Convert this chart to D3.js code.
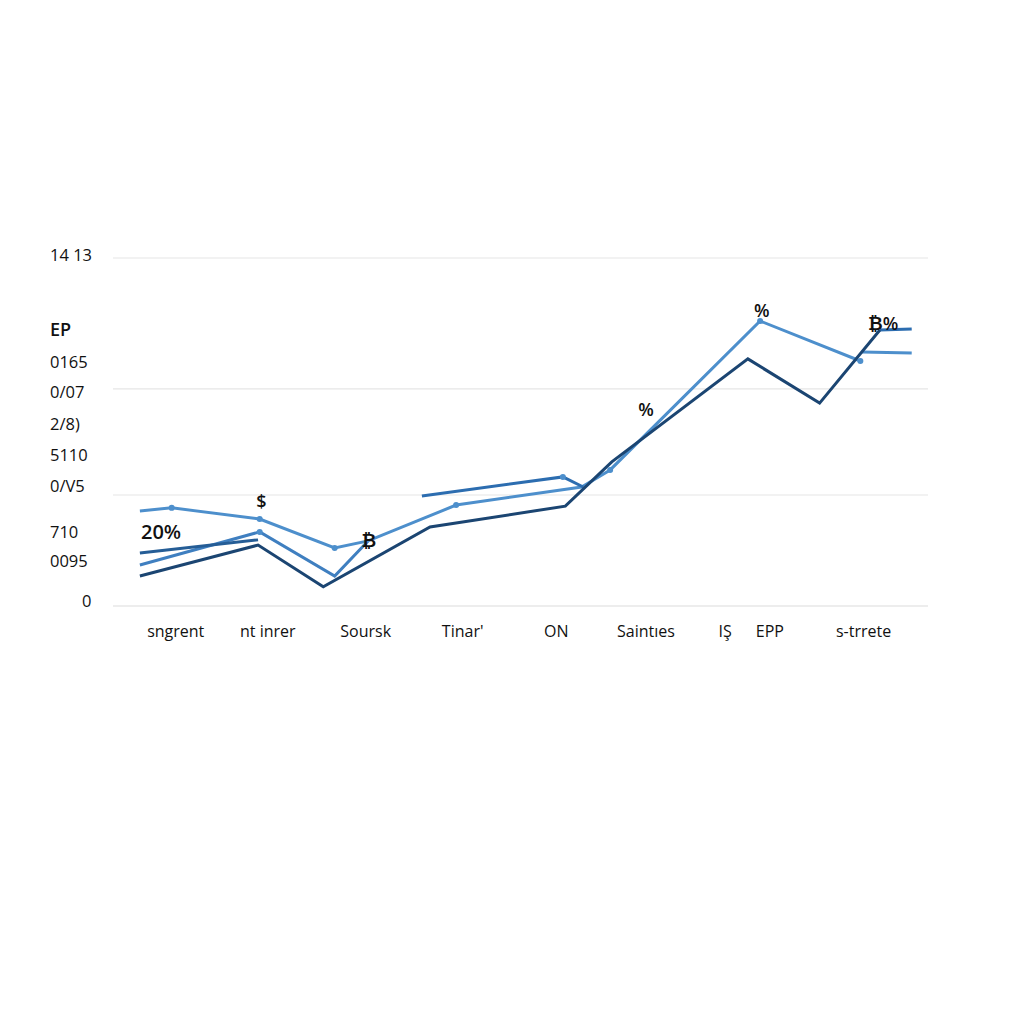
<!DOCTYPE html>
<html><head><meta charset="utf-8">
<script src="https://cdn.jsdelivr.net/npm/d3@7"></script>
<style>html,body{margin:0;background:#fff;}svg{display:block;}</style>
</head><body>
<script>
// ---- data ----
const gridValues = [0, 31.9, 62.4, 100];
const yTickLabels = ["14 13","EP","0165","0/07","2/8)","5110","0/V5","710","0095","0"];
const yTickValues = [100.9, 79.3, 70.1, 61.5, 52.3, 43.4, 34.5, 21.3, 12.9, 1.4];
const categories = ["sngrent","nt inrer","Soursk","Tinar'","ON","Saintıes","IŞ","EPP","s-trrete"];
const categoryX = [7.7, 19.0, 31.0, 42.9, 54.4, 65.4, 75.1, 80.6, 92.1];

const lightAX = [3.3, 7.2, 18.0, 27.2, 31.3, 42.1, 57.5, 61.0, 79.4, 91.7];
const lightAY = [27.3, 28.2, 25.0, 16.7, 18.7, 29.0, 34.2, 39.1, 81.9, 70.4];
const lightBX = [3.3, 18.0, 27.2, 31.3];
const lightBY = [11.8, 21.3, 8.6, 18.7];
const lightCX = [91.9, 98.0];
const lightCY = [73.0, 72.7];
const mediumAX = [37.9, 55.2, 57.7];
const mediumAY = [31.6, 37.1, 34.2];
const mediumBX = [94.1, 98.0];
const mediumBY = [79.3, 79.6];
const darkAX = [3.3, 17.8, 25.8, 38.9, 55.5, 61.2, 77.9, 86.7, 94.1];
const darkAY = [8.6, 17.5, 5.5, 22.7, 28.7, 41.4, 71.0, 58.3, 79.3];
const darkBX = [3.3, 17.8];
const darkBY = [15.2, 19.0];

const dotsX = [7.2, 18.0, 27.2, 42.1, 61.0, 79.4, 91.7, 18.0, 55.2];
const dotsY = [28.2, 25.0, 16.7, 29.0, 39.1, 81.9, 70.4, 21.3, 37.1];

const annoText = ["$", "20%", "₿", "%", "%", "₿%"];
const annoX = [18.2, 5.9, 31.4, 65.4, 79.6, 94.5];
const annoY = [29.9, 21.3, 18.7, 56.3, 84.8, 81.0];

// ---- chart ----
const W = 1024, H = 1024;
const svg = d3.select("body").append("svg").attr("width", W).attr("height", H);
const x = d3.scaleLinear().domain([0, 100]).range([113, 928]);
const y = d3.scaleLinear().domain([0, 100]).range([606, 258]);
const font = "'Open Sans', 'Liberation Sans', sans-serif";

svg.append("g").selectAll("line").data(gridValues).join("line")
  .attr("x1", x(0)).attr("x2", x(100))
  .attr("y1", d => y(d)).attr("y2", d => y(d))
  .attr("stroke", (d) => d === 0 ? "#dcdcdc" : "#e6e6e6").attr("stroke-width", 1.2);

svg.append("g").selectAll("text").data(yTickLabels).join("text")
  .attr("x", (d) => d === "0" ? 82 : 50)
  .attr("y", (d, i) => y(yTickValues[i]))
  .attr("dy", "0.35em")
  .attr("font-family", font)
  .attr("font-size", (d) => d === "EP" ? 18 : 16.5)
  .attr("font-weight", (d) => d === "EP" ? 600 : 400)
  .attr("fill", "#111")
  .text(d => d);

svg.append("g").selectAll("text").data(categories).join("text")
  .attr("x", (d, i) => x(categoryX[i]))
  .attr("y", 631).attr("dy", "0.35em")
  .attr("text-anchor", "middle")
  .attr("font-family", font).attr("font-size", 16)
  .attr("fill", "#111")
  .text(d => d);

const line = d3.line().x(d => x(d[0])).y(d => y(d[1]));
const series = [
  {xs: lightBX, ys: lightBY, color: "#3f7fc0"},
  {xs: lightAX, ys: lightAY, color: "#4d8fcc"},
  {xs: lightCX, ys: lightCY, color: "#4d8fcc"},
  {xs: mediumAX, ys: mediumAY, color: "#2c6db0"},
  {xs: mediumBX, ys: mediumBY, color: "#2c6db0"},
  {xs: darkBX, ys: darkBY, color: "#255d96"},
  {xs: darkAX, ys: darkAY, color: "#1b4572"}
];
series.forEach(s => {
  svg.append("path")
    .datum(s.xs.map((v, i) => [v, s.ys[i]]))
    .attr("d", line)
    .attr("fill", "none")
    .attr("stroke", s.color)
    .attr("stroke-width", 3)
    .attr("stroke-linejoin", "miter");
});

svg.append("g").selectAll("circle").data(dotsX).join("circle")
  .attr("cx", d => x(d)).attr("cy", (d, i) => y(dotsY[i]))
  .attr("r", 3).attr("fill", "#4d8fcc");

svg.append("g").selectAll("text").data(annoText).join("text")
  .attr("x", (d, i) => x(annoX[i]))
  .attr("y", (d, i) => y(annoY[i]))
  .attr("dy", "0.35em").attr("text-anchor", "middle")
  .attr("font-family", font)
  .attr("font-size", (d) => d === "20%" ? 20 : 18)
  .attr("font-weight", 600)
  .attr("fill", "#111")
  .text(d => d);
</script>
</body></html>
